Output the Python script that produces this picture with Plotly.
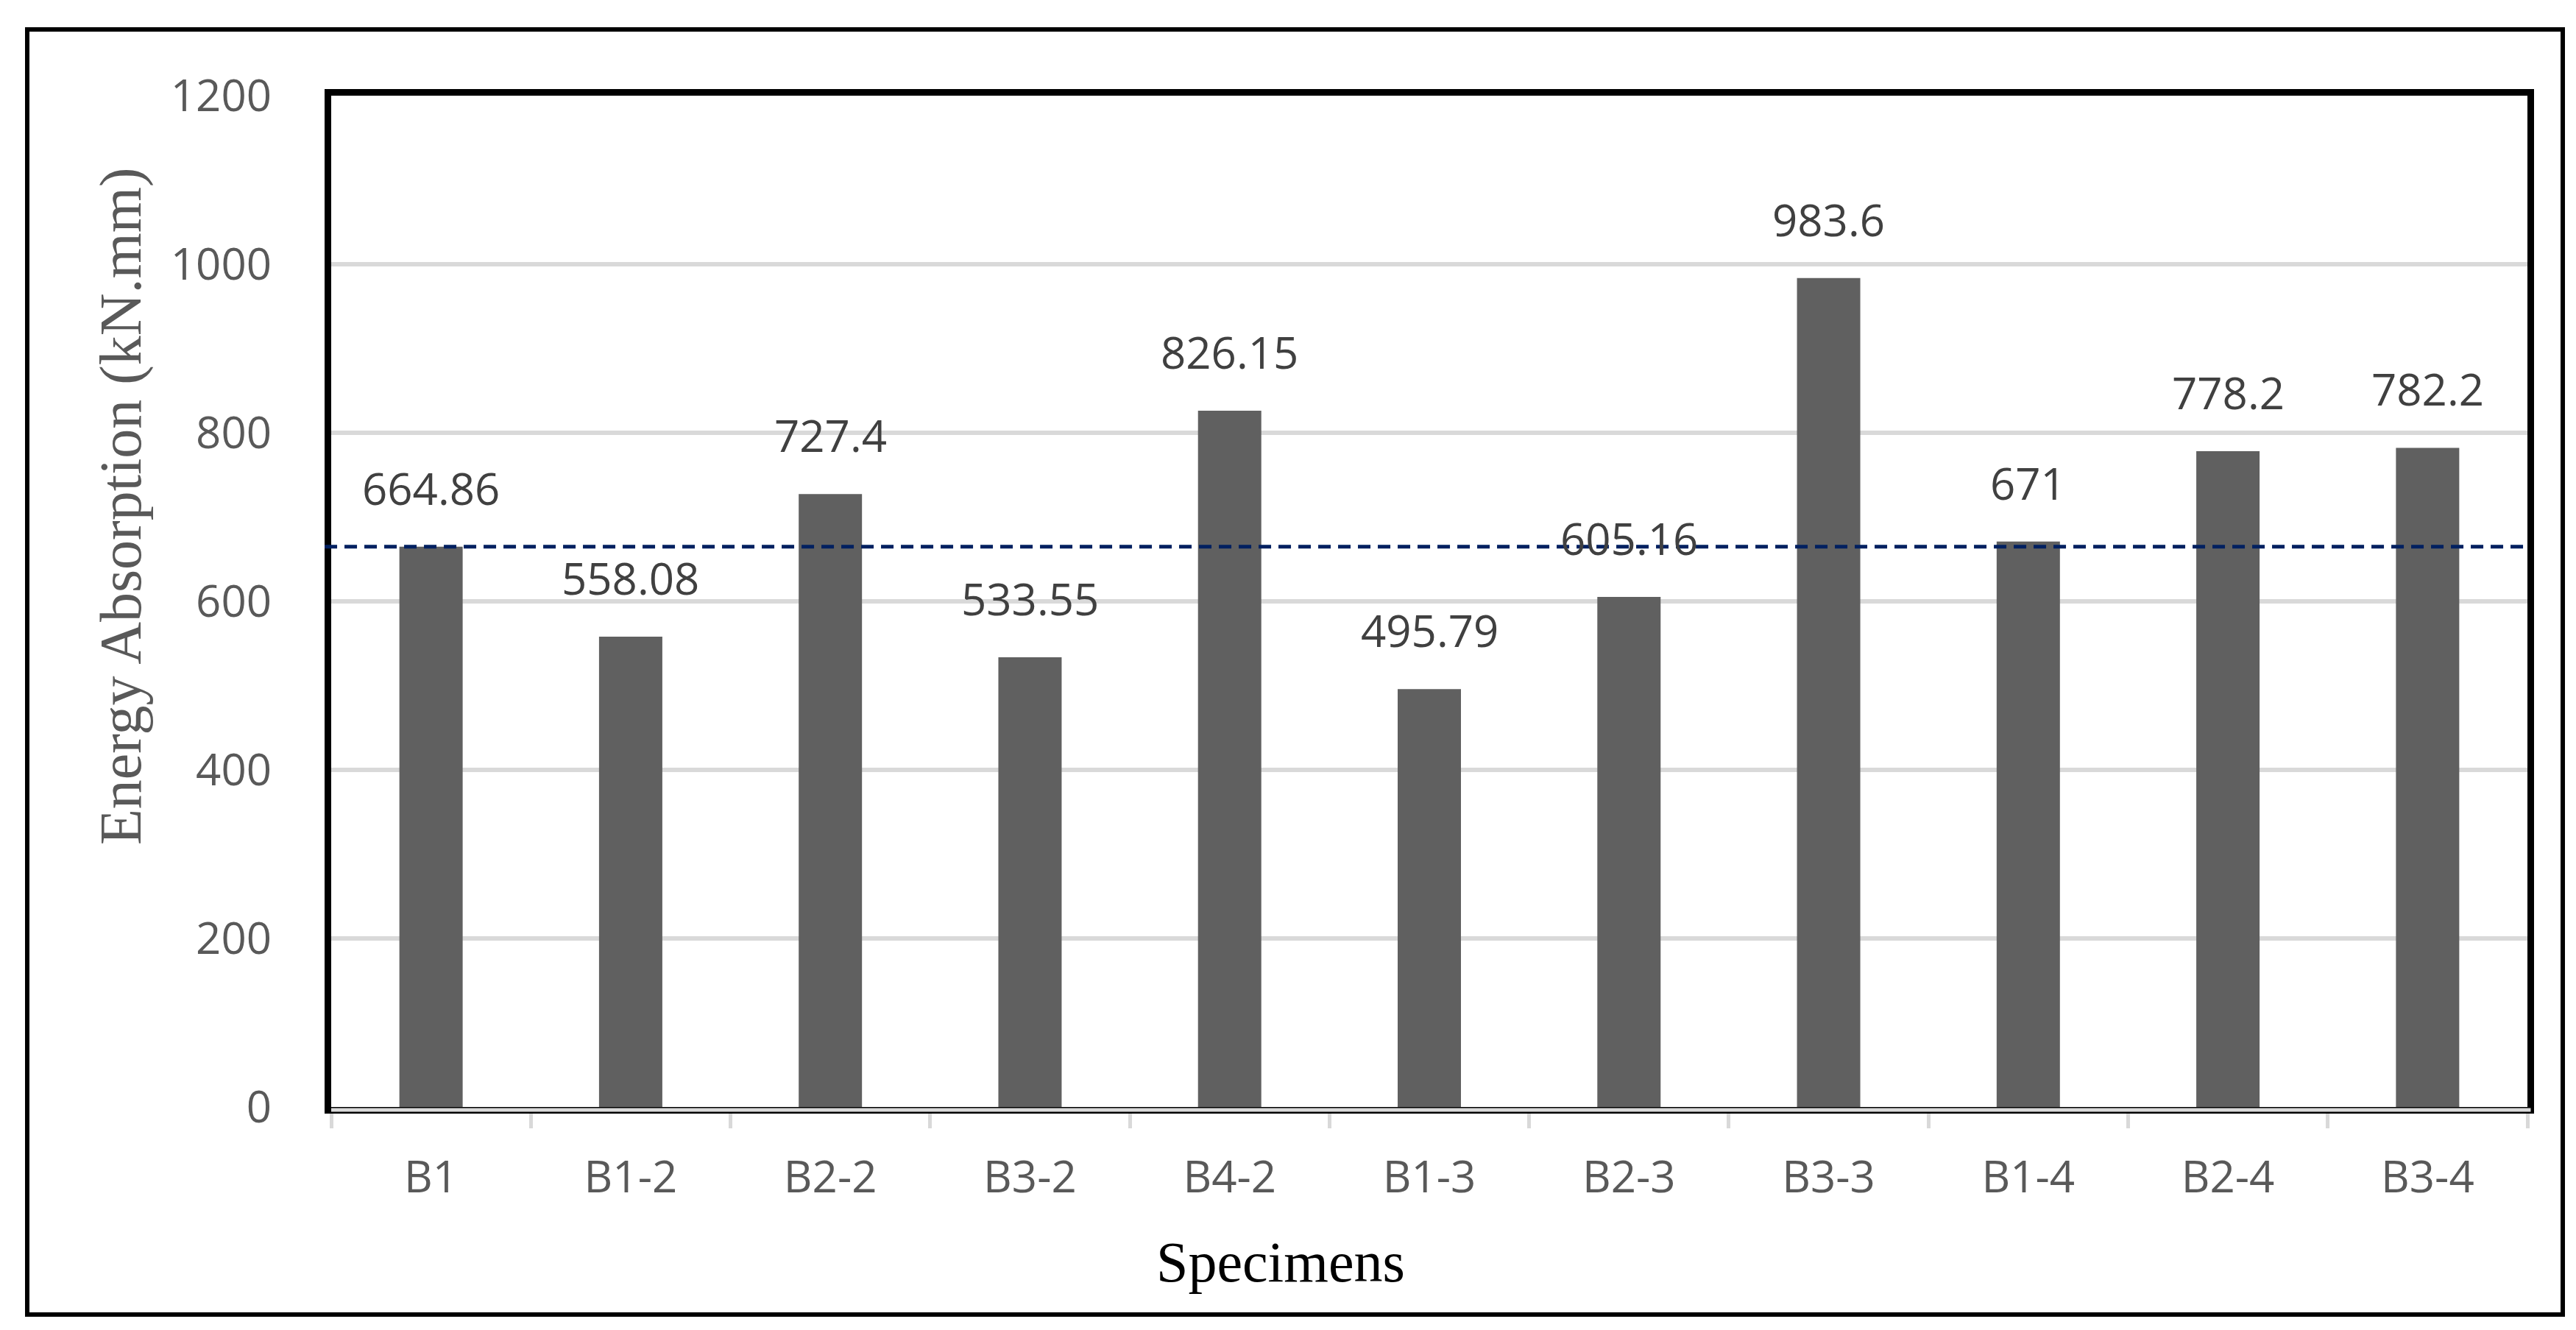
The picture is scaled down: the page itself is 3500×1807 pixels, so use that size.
import plotly.graph_objects as go

# ---- data ----
specimens = ["B1", "B1-2", "B2-2", "B3-2", "B4-2", "B1-3", "B2-3", "B3-3", "B1-4", "B2-4", "B3-4"]
energy = [664.86, 558.08, 727.4, 533.55, 826.15, 495.79, 605.16, 983.6, 671, 778.2, 782.2]
labels = ["664.86", "558.08", "727.4", "533.55", "826.15", "495.79", "605.16", "983.6", "671", "778.2", "782.2"]
reference_value = 664.86
y_ticks = [0, 200, 400, 600, 800, 1000, 1200]

# ---- layout constants (pixels) ----
W, H = 3500, 1807
ML, MR, MT, MB = 442, 74, 122, 311
PW, PH = W - ML - MR, H - MT - MB


def px_x(px):
    return (px - ML) / PW


def px_y(py):
    return 1 - (py - MT) / PH


fig = go.Figure()
fig.add_trace(go.Bar(
    x=specimens, y=energy,
    marker=dict(color="#606060", line=dict(width=0)),
    hoverinfo="x+y", showlegend=False,
))

annotations = []
for cat, val, lab in zip(specimens, energy, labels):
    annotations.append(dict(
        x=cat, y=val, xref="x", yref="y", text=lab, showarrow=False,
        yanchor="bottom", xanchor="center", yshift=37,
        font=dict(family="Open Sans", size=60, color="#404040"),
    ))

# axis titles
annotations.append(dict(
    x=px_x(157), y=px_y(680), xref="paper", yref="paper",
    text="Energy Absorption (kN.mm)", textangle=-90, showarrow=False,
    xanchor="center", yanchor="middle",
    font=dict(family="Liberation Serif", size=80, color="#595959"),
))
annotations.append(dict(
    x=px_x(1732), y=px_y(1706), xref="paper", yref="paper",
    text="Specimens", showarrow=False,
    xanchor="center", yanchor="middle",
    font=dict(family="Liberation Serif", size=78, color="#000000"),
))

shapes = [
    # reference dashed line
    dict(type="line", xref="x domain", yref="y", x0=-0.003, x1=1, y0=reference_value, y1=reference_value,
         line=dict(color="#002060", width=5, dash="17px,10px"), layer="above"),
    # gray axis band under the bottom border
    dict(type="line", xref="x domain", yref="y domain", x0=0, x1=1.0015,
         ysizemode="pixel", yanchor=0, y0=-4, y1=-4,
         line=dict(color="#d9d9d9", width=5), layer="above"),
    # outer frame
    dict(type="rect", xref="paper", yref="paper",
         x0=px_x(29), x1=px_x(3474), y0=px_y(1778), y1=px_y(32),
         line=dict(color="#000000", width=6), fillcolor="rgba(0,0,0,0)", layer="above"),
]

fig.update_layout(
    width=W, height=H,
    margin=dict(l=ML, r=MR, t=MT, b=MB, pad=0),
    paper_bgcolor="white", plot_bgcolor="white",
    bargap=0.683,
    annotations=annotations,
    shapes=shapes,
    showlegend=False,
)

fig.update_xaxes(
    type="category",
    showline=True, linecolor="#000000", linewidth=9, mirror=True,
    ticks="outside", tickson="boundaries", ticklen=20, tickwidth=5, tickcolor="#d9d9d9",
    ticklabelstandoff=35,
    tickfont=dict(family="Open Sans", size=60, color="#595959"),
    showgrid=False, zeroline=False,
)
fig.update_yaxes(
    range=[0, 1200], tickvals=y_ticks, ticktext=[str(v) for v in y_ticks],
    showline=True, linecolor="#000000", linewidth=9, mirror=True,
    ticks="", ticklabelstandoff=60,
    tickfont=dict(family="Open Sans", size=60, color="#595959"),
    showgrid=True, gridcolor="#d9d9d9", gridwidth=5.5,
    zeroline=False,
)

fig.write_html("out.html")
